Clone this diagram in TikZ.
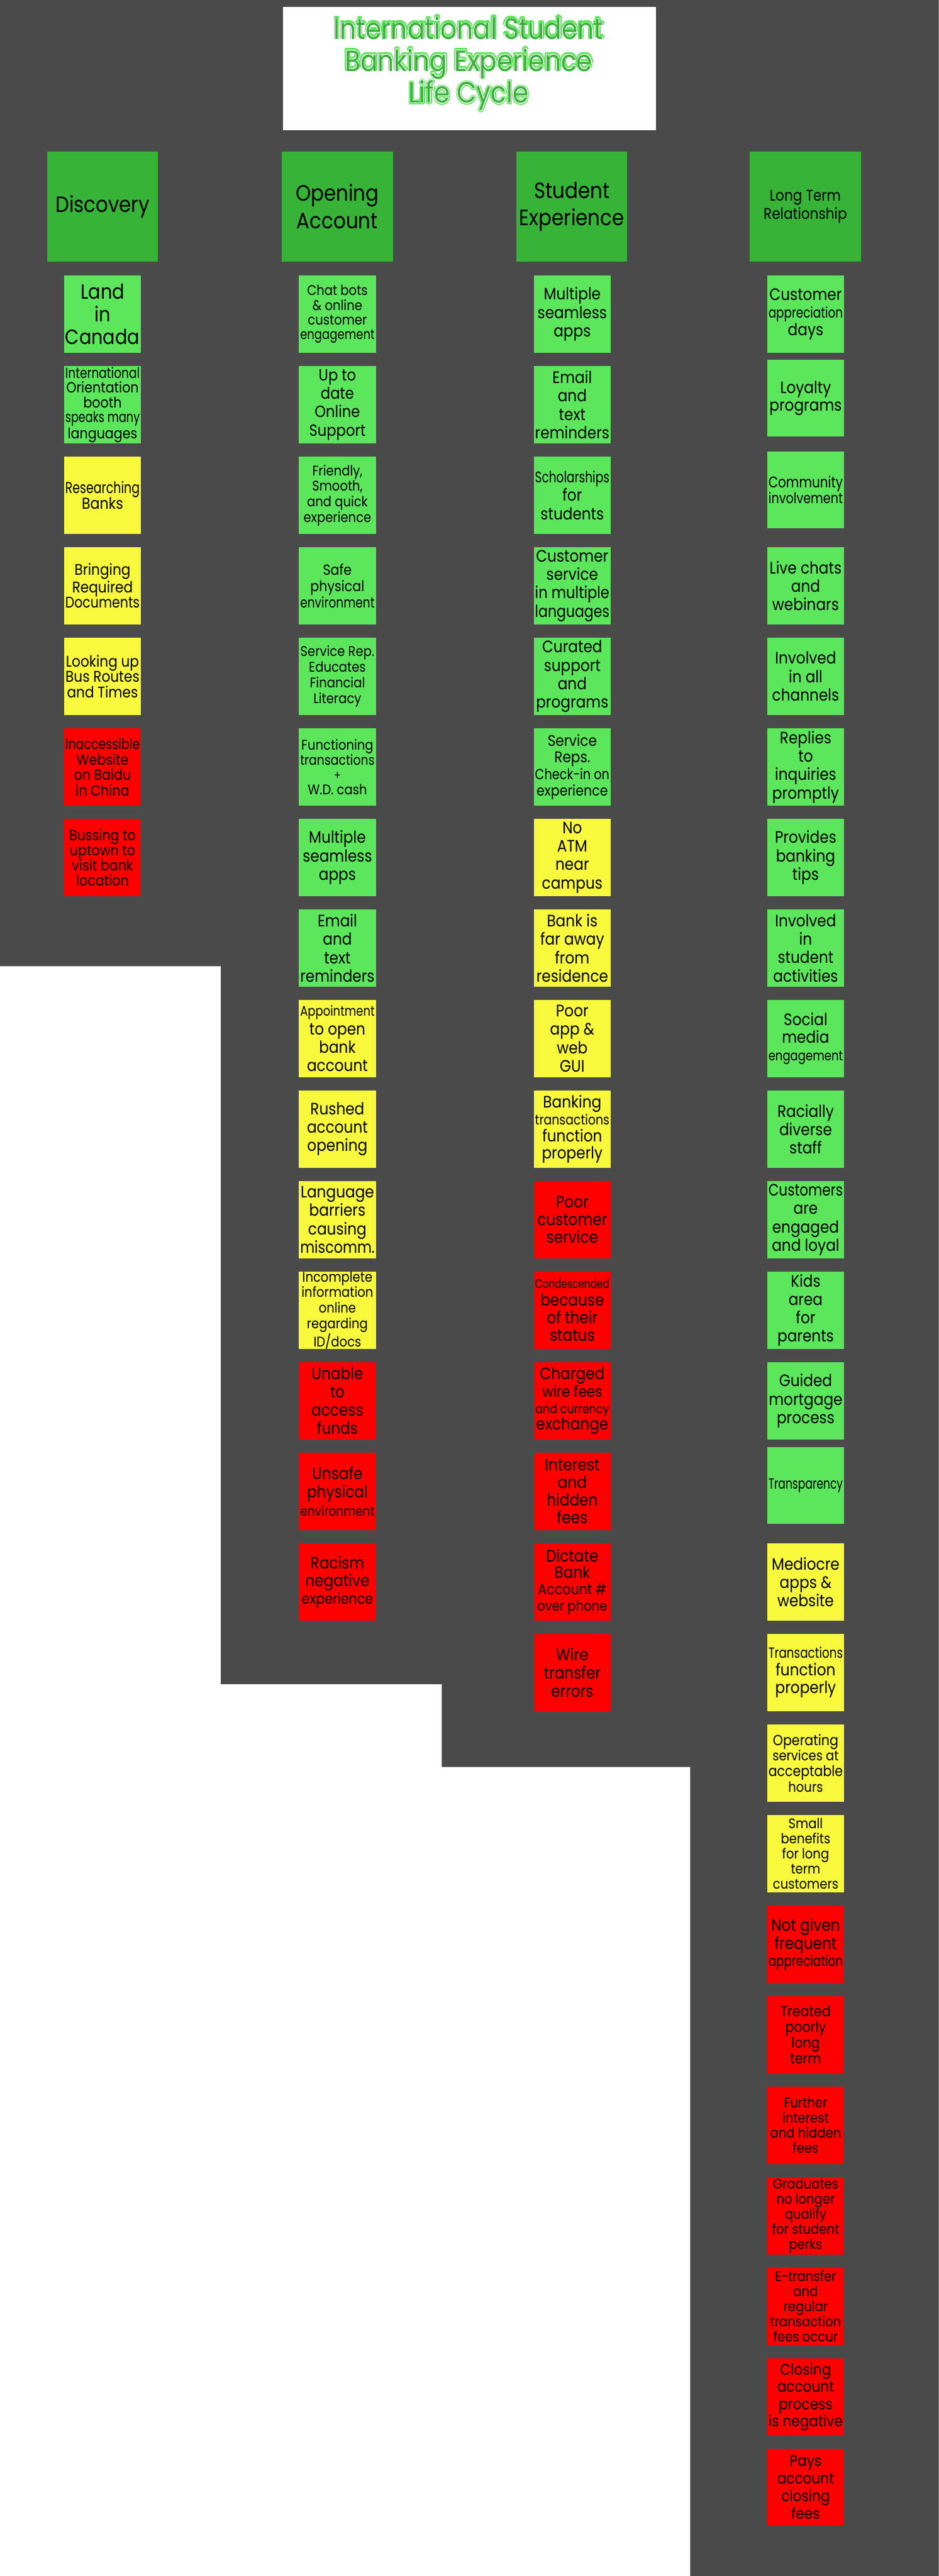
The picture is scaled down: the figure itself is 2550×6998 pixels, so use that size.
\documentclass[tikz,border=0pt]{standalone}
\usepackage{fontspec}
\usepackage{graphicx}
\usepackage{contour}
\contournumber{32}
\setmainfont{Poppins}
\newfontfamily\cardfont{Poppins}[FakeStretch=0.88]
\newfontfamily\headfont{Poppins}[FakeStretch=0.88]
\newfontfamily\titlefont{Poppins}[FakeStretch=0.87]
\definecolor{bgdark}{HTML}{4A4A4A}
\definecolor{hdrg}{HTML}{37B337}
\definecolor{cg}{HTML}{5CE65C}
\definecolor{cy}{HTML}{F8F83C}
\definecolor{cr}{HTML}{FF0000}
\definecolor{tdark}{HTML}{38B038}
\definecolor{tlight}{HTML}{5CE65C}
\newsavebox\lnbox
\newlength\maxlw
\setlength\maxlw{57.5pt}
\def\dfs{45}
\newcommand\cf[2]{\def\dfs{#1}\pgfmathsetmacro\cfa{#1*0.28453}\pgfmathsetmacro\cfb{#2*0.28453}\fontsize{\cfa pt}{\cfb pt}\selectfont}
\newcommand\Ln[2][\dfs]{\pgfmathsetmacro\lnsz{#1*0.28453}\sbox\lnbox{\fontsize{\lnsz pt}{\lnsz pt}\selectfont #2}\ifdim\wd\lnbox>\maxlw\resizebox{\maxlw}{\height}{\usebox\lnbox}\else\usebox\lnbox\fi}
\tikzset{
  card/.style={minimum width=2.09cm, minimum height=2.09cm, inner sep=0pt, align=center, text=black, font={\cardfont\cf{45}{50}}},
  gcard/.style={card, fill=cg},
  ycard/.style={card, fill=cy},
  rcard/.style={card, fill=cr},
  hdr/.style={minimum width=3.01cm, minimum height=3.0cm, inner sep=0pt, align=center, fill=hdrg, text=black, font={\headfont\cf{60}{74}}},
}
\begin{document}
\begin{tikzpicture}[x=0.01cm,y=-0.01cm]
\useasboundingbox (0,0) rectangle (2550,6998);
\fill[white] (0,0) rectangle (2550,6998);
\fill[bgdark] (0,0) -- (2550,0) -- (2550,6998) -- (1875,6998) -- (1875,4800) -- (1200,4800) -- (1200,4575) -- (600,4575) -- (600,2625) -- (0,2625) -- cycle;
% title
\node[fill=white, minimum width=10.13cm, minimum height=3.34cm, inner sep=0pt] (title) at (1275.5,186) {};
\node[align=center, text=tlight, font={\titlefont\cf{80}{86}\contourlength{1.1pt}}] (titletxtA) at (1273,174) {\contour{tlight}{International Student}\\\contour{tlight}{Banking Experience}\\\contour{tlight}{Life Cycle}};
\node[align=center, text=tdark, font={\titlefont\cf{80}{86}\contourlength{0.35pt}}] (titletxtB) at (1273,174) {\contour{white}{International Student}\\\contour{white}{Banking Experience}\\\contour{white}{Life Cycle}};
% headers
\node[hdr] (h1) at (278.5,561) {\raisebox{3pt}{Discovery}};
\node[hdr] (h2) at (916.5,561) {Opening\\Account};
\node[hdr] (h3) at (1553.5,561) {Student\\Experience};
\node[hdr, font={\headfont\cf{42}{49}}] (h4) at (2187.5,561) {Long Term\\Relationship};
% column 1
\node[gcard, font={\cardfont\cf{56}{62}}] (a0) at (278.5,{853.5+246*0}) {\Ln{Land}\\\Ln{in}\\\Ln{Canada}};
\node[gcard, font={\cardfont\cf{40}{40}}] (a1) at (278.5,{853.5+246*1}) {\Ln{International}\\\Ln{Orientation}\\\Ln{booth}\\\Ln{speaks many}\\\Ln{languages}};
\node[ycard, font={\cardfont\cf{43}{44}}] (a2) at (278.5,{853.5+246*2}) {\Ln{Researching}\\\Ln{Banks}};
\node[ycard, font={\cardfont\cf{42}{42}}] (a3) at (278.5,{853.5+246*3}) {\Ln{Bringing}\\\Ln{Required}\\\Ln{Documents}};
\node[ycard, font={\cardfont\cf{42}{42}}] (a4) at (278.5,{853.5+246*4}) {\Ln{Looking up}\\\Ln{Bus Routes}\\\Ln{and Times}};
\node[rcard, font={\cardfont\cf{40}{42}}] (a5) at (278.5,{853.5+246*5}) {\Ln{Inaccessible}\\\Ln{Website}\\\Ln{on Baidu}\\\Ln{in China}};
\node[rcard, font={\cardfont\cf{40}{41}}] (a6) at (278.5,{853.5+246*6}) {\Ln{Bussing to}\\\Ln{uptown to}\\\Ln{visit bank}\\\Ln{location}};
% column 2
\node[gcard, font={\cardfont\cf{38}{40}}] (b0) at (916.5,{853.5+246*0}) {\Ln{Chat bots}\\\Ln{\& online}\\\Ln{customer}\\\Ln{engagement}};
\node[gcard, font={\cardfont\cf{44}{50}}] (b1) at (916.5,{853.5+246*1}) {\Ln{Up to}\\\Ln{date}\\\Ln{Online}\\\Ln{Support}};
\node[gcard, font={\cardfont\cf{38}{42}}] (b2) at (916.5,{853.5+246*2}) {\Ln{Friendly,}\\\Ln{Smooth,}\\\Ln{and quick}\\\Ln{experience}};
\node[gcard, font={\cardfont\cf{40}{45}}] (b3) at (916.5,{853.5+246*3}) {\Ln{Safe}\\\Ln{physical}\\\Ln{environment}};
\node[gcard, font={\cardfont\cf{38}{43}}] (b4) at (916.5,{853.5+246*4}) {\Ln{Service Rep.}\\\Ln{Educates}\\\Ln{Financial}\\\Ln{Literacy}};
\node[gcard, font={\cardfont\cf{38}{40}}] (b5) at (916.5,{853.5+246*5}) {\Ln{Functioning}\\\Ln{transactions}\\\Ln[32]{+}\\\Ln{W.D. cash}};
\node[gcard] (b6) at (916.5,{853.5+246*6}) {\Ln{Multiple}\\\Ln{seamless}\\\Ln{apps}};
\node[gcard] (b7) at (916.5,{853.5+246*7}) {\Ln{Email}\\\Ln{and}\\\Ln{text}\\\Ln{reminders}};
\node[ycard] (b8) at (916.5,{853.5+246*8}) {\Ln[38]{Appointment}\\\Ln{to open}\\\Ln{bank}\\\Ln{account}};
\node[ycard] (b9) at (916.5,{853.5+246*9}) {\Ln{Rushed}\\\Ln{account}\\\Ln{opening}};
\node[ycard] (b10) at (916.5,{853.5+246*10}) {\Ln{Language}\\\Ln{barriers}\\\Ln{causing}\\\Ln{miscomm.}};
\node[ycard, font={\cardfont\cf{38}{42}}] (b11) at (916.5,{853.5+246*11}) {\Ln{Incomplete}\\\Ln{information}\\\Ln{online}\\\Ln{regarding}\\\Ln{ID/docs}};
\node[rcard] (b12) at (916.5,{853.5+246*12}) {\Ln{Unable}\\\Ln{to}\\\Ln{access}\\\Ln{funds}};
\node[rcard] (b13) at (916.5,{853.5+246*13}) {\Ln{Unsafe}\\\Ln{physical}\\\Ln[36]{environment}};
\node[rcard, font={\cardfont\cf{45}{48}}] (b14) at (916.5,{853.5+246*14}) {\Ln{Racism}\\\Ln{negative}\\\Ln[40]{experience}};
% column 3
\node[gcard] (c0) at (1554.5,{853.5+246*0}) {\Ln{Multiple}\\\Ln{seamless}\\\Ln{apps}};
\node[gcard] (c1) at (1554.5,{853.5+246*1}) {\Ln{Email}\\\Ln{and}\\\Ln{text}\\\Ln{reminders}};
\node[gcard] (c2) at (1554.5,{853.5+246*2}) {\Ln[42]{Scholarships}\\\Ln{for}\\\Ln{students}};
\node[gcard] (c3) at (1554.5,{853.5+246*3}) {\Ln{Customer}\\\Ln{service}\\\Ln{in multiple}\\\Ln{languages}};
\node[gcard] (c4) at (1554.5,{853.5+246*4}) {\Ln{Curated}\\\Ln{support}\\\Ln{and}\\\Ln{programs}};
\node[gcard, font={\cardfont\cf{42}{45}}] (c5) at (1554.5,{853.5+246*5}) {\Ln{Service}\\\Ln{Reps.}\\\Ln[40]{Check-in on}\\\Ln[40]{experience}};
\node[ycard] (c6) at (1554.5,{853.5+246*6}) {\Ln{No}\\\Ln{ATM}\\\Ln{near}\\\Ln{campus}};
\node[ycard] (c7) at (1554.5,{853.5+246*7}) {\Ln{Bank is}\\\Ln{far away}\\\Ln{from}\\\Ln{residence}};
\node[ycard] (c8) at (1554.5,{853.5+246*8}) {\Ln{Poor}\\\Ln{app \&}\\\Ln{web}\\\Ln{GUI}};
\node[ycard, font={\cardfont\cf{45}{46}}] (c9) at (1554.5,{853.5+246*9}) {\Ln{Banking}\\\Ln[38]{transactions}\\\Ln{function}\\\Ln{properly}};
\node[rcard, font={\cardfont\cf{45}{48}}] (c10) at (1554.5,{853.5+246*10}) {\Ln{Poor}\\\Ln{customer}\\\Ln{service}};
\node[rcard, font={\cardfont\cf{45}{48}}] (c11) at (1554.5,{853.5+246*11}) {\Ln[34]{Condescended}\\\Ln{because}\\\Ln{of their}\\\Ln{status}};
\node[rcard, font={\cardfont\cf{45}{44}}] (c12) at (1554.5,{853.5+246*12}) {\Ln{Charged}\\\Ln[42]{wire fees}\\\Ln[34]{and currency}\\\Ln{exchange}};
\node[rcard, font={\cardfont\cf{45}{48}}] (c13) at (1554.5,{853.5+246*13}) {\Ln{Interest}\\\Ln{and}\\\Ln{hidden}\\\Ln{fees}};
\node[rcard, font={\cardfont\cf{45}{44}}] (c14) at (1554.5,{853.5+246*14}) {\Ln{Dictate}\\\Ln{Bank}\\\Ln[40]{Account \#}\\\Ln[38]{over phone}};
\node[rcard] (c15) at (1554.5,{853.5+246*15}) {\Ln{Wire}\\\Ln{transfer}\\\Ln{errors}};
% column 4
\node[gcard, font={\cardfont\cf{45}{48}}] (d0) at (2188.5,{853.5+246*0}) {\Ln{Customer}\\\Ln[40]{appreciation}\\\Ln{days}};
\node[gcard, font={\cardfont\cf{45}{48}}] (d1) at (2188.5,{853.5+246*1-18}) {\Ln{Loyalty}\\\Ln{programs}};
\node[gcard, font={\cardfont\cf{42}{42}}] (d2) at (2188.5,{853.5+246*2-15}) {\Ln{Community}\\\Ln[40]{involvement}};
\node[gcard] (d3) at (2188.5,{853.5+246*3}) {\Ln{Live chats}\\\Ln{and}\\\Ln{webinars}};
\node[gcard] (d4) at (2188.5,{853.5+246*4}) {\Ln{Involved}\\\Ln{in all}\\\Ln{channels}};
\node[gcard] (d5) at (2188.5,{853.5+246*5}) {\Ln{Replies}\\\Ln{to}\\\Ln{inquiries}\\\Ln{promptly}};
\node[gcard] (d6) at (2188.5,{853.5+246*6}) {\Ln{Provides}\\\Ln{banking}\\\Ln{tips}};
\node[gcard] (d7) at (2188.5,{853.5+246*7}) {\Ln{Involved}\\\Ln{in}\\\Ln{student}\\\Ln{activities}};
\node[gcard, font={\cardfont\cf{45}{48}}] (d8) at (2188.5,{853.5+246*8}) {\Ln{Social}\\\Ln{media}\\\Ln[38]{engagement}};
\node[gcard] (d9) at (2188.5,{853.5+246*9}) {\Ln{Racially}\\\Ln{diverse}\\\Ln{staff}};
\node[gcard] (d10) at (2188.5,{853.5+246*10}) {\Ln{Customers}\\\Ln{are}\\\Ln{engaged}\\\Ln{and loyal}};
\node[gcard] (d11) at (2188.5,{853.5+246*11}) {\Ln{Kids}\\\Ln{area}\\\Ln{for}\\\Ln{parents}};
\node[gcard] (d12) at (2188.5,{853.5+246*12}) {\Ln{Guided}\\\Ln{mortgage}\\\Ln{process}};
\node[gcard] (d13) at (2188.5,{853.5+246*13-16}) {\Ln[40]{Transparency}};
\node[ycard] (d14) at (2188.5,{853.5+246*14}) {\Ln{Mediocre}\\\Ln{apps \&}\\\Ln{website}};
\node[ycard, font={\cardfont\cf{45}{48}}] (d15) at (2188.5,{853.5+246*15}) {\Ln[40]{Transactions}\\\Ln{function}\\\Ln{properly}};
\node[ycard, font={\cardfont\cf{40}{42}}] (d16) at (2188.5,{853.5+246*16}) {\Ln{Operating}\\\Ln[38]{services at}\\\Ln{acceptable}\\\Ln[38]{hours}};
\node[ycard, font={\cardfont\cf{38}{41}}] (d17) at (2188.5,{853.5+246*17}) {\Ln{Small}\\\Ln{benefits}\\\Ln{for long}\\\Ln{term}\\\Ln{customers}};
\node[rcard, font={\cardfont\cf{45}{46}}] (d18) at (2188.5,{853.5+246*18}) {\Ln{Not given}\\\Ln{frequent}\\\Ln[40]{appreciation}};
\node[rcard, font={\cardfont\cf{40}{43}}] (d19) at (2188.5,{853.5+246*19}) {\Ln{Treated}\\\Ln{poorly}\\\Ln{long}\\\Ln{term}};
\node[rcard, font={\cardfont\cf{38}{41}}] (d20) at (2188.5,{853.5+246*20}) {\Ln{Further}\\\Ln{interest}\\\Ln{and hidden}\\\Ln{fees}};
\node[rcard, font={\cardfont\cf{38}{41}}] (d21) at (2188.5,{853.5+246*21}) {\Ln{Graduates}\\\Ln{no longer}\\\Ln{qualify}\\\Ln{for student}\\\Ln{perks}};
\node[rcard, font={\cardfont\cf{38}{41}}] (d22) at (2188.5,{853.5+246*22}) {\Ln{E-transfer}\\\Ln{and}\\\Ln{regular}\\\Ln{transaction}\\\Ln{fees occur}};
\node[rcard, font={\cardfont\cf{42}{47}}] (d23) at (2188.5,{853.5+246*23}) {\Ln{Closing}\\\Ln{account}\\\Ln{process}\\\Ln{is negative}};
\node[rcard, font={\cardfont\cf{42}{48}}] (d24) at (2188.5,{853.5+246*24}) {\Ln{Pays}\\\Ln{account}\\\Ln{closing}\\\Ln{fees}};
\end{tikzpicture}
\end{document}
